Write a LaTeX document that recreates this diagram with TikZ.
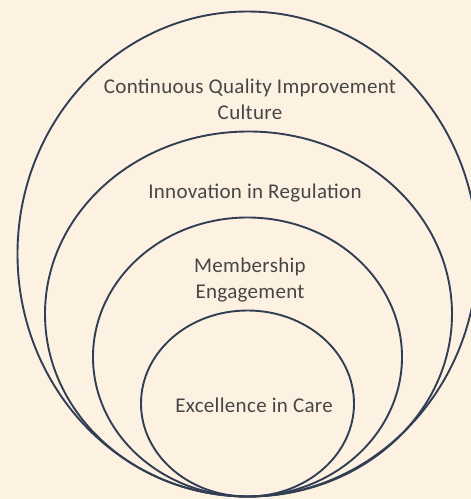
\documentclass[tikz,border=0pt]{standalone}
\usepackage{fontspec}
\setmainfont{Carlito}[LetterSpace=1.5]
\usetikzlibrary{shapes.geometric}
\definecolor{paper}{RGB}{253,242,226}
\definecolor{ring}{RGB}{50,62,84}
\definecolor{ink}{RGB}{70,70,70}
\tikzset{
  ringshape/.style={ellipse, draw=ring, line width=1.9pt, inner sep=0pt, outer sep=0pt},
  label/.style={text=ink, align=center, font=\fontsize{21}{26}\selectfont}
}
\begin{document}
\begin{tikzpicture}[x=1pt,y=1pt]
  \fill[paper] (0,0) rectangle (471,499);
  \useasboundingbox (0,0) rectangle (471,499);
  % nested rings, all touching at the bottom
  \node[ringshape, minimum width=460pt, minimum height=485pt] (culture) at (247.5,245) {};
  \node[ringshape, minimum width=407pt, minimum height=365pt] (innovation) at (248.5,185) {};
  \node[ringshape, minimum width=309pt, minimum height=279pt] (membership) at (247.5,142) {};
  \node[ringshape, minimum width=213pt, minimum height=186pt] (care) at (247.5,95.5) {};
  % ring titles
  \node[label] (tculture) at (250,400) {Continuous Quality Improvement\\Culture};
  \node[label] (tinnovation) at (255,306) {Innovation in Regulation};
  \node[label] (tmembership) at (250,219) {Membership\\Engagement};
  \node[label] (tcare) at (254,94) {Excellence in Care};
\end{tikzpicture}
\end{document}
